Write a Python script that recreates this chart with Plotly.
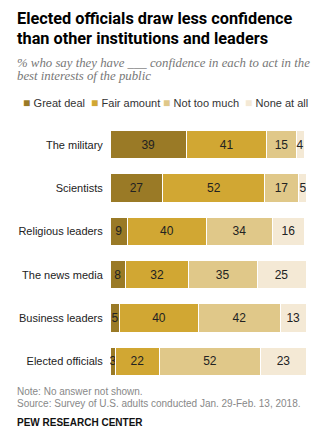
import plotly.graph_objects as go

categories = ["The military", "Scientists", "Religious leaders", "The news media",
              "Business leaders", "Elected officials"]
series_names = ["Great deal", "Fair amount", "Not too much", "None at all"]
great_deal = [39, 27, 9, 8, 5, 3]
fair_amount = [41, 52, 40, 32, 40, 22]
not_too_much = [15, 17, 34, 35, 42, 52]
none_at_all = [4, 5, 16, 25, 13, 23]
colors = ["#9a7a26", "#d1a733", "#e0c889", "#f4e9d5"]

series = [great_deal, fair_amount, not_too_much, none_at_all]

fig = go.Figure()
for name, vals, col in zip(series_names, series, colors):
    fig.add_trace(go.Bar(
        y=categories, x=vals, name=name, orientation="h",
        marker=dict(color=col, line=dict(color="white", width=1)),
        text=[str(v) for v in vals], textposition="inside",
        insidetextanchor="middle", constraintext="none",
        textfont=dict(family="Liberation Sans, Arial", size=12, color="#222"),
        hoverinfo="skip", showlegend=False,
    ))

W, H = 335, 440
ml, mr, mt, mb = 110, 29, 123, 57

def px(x):
    return (x - ml) / (W - ml - mr)

def py(y):
    return 1 - (y - mt) / (H - mt - mb)

ann = []
title_font = dict(family="Liberation Sans Narrow, Roboto, Arial", size=16.3, color="#000")
ann.append(dict(text="<b>Elected officials draw less confidence</b>", x=px(15), y=py(18),
                xref="paper", yref="paper", xanchor="left", yanchor="middle",
                showarrow=False, font=title_font))
ann.append(dict(text="<b>than other institutions and leaders</b>", x=px(15), y=py(38),
                xref="paper", yref="paper", xanchor="left", yanchor="middle",
                showarrow=False, font=title_font))
sub_font = dict(family="Liberation Serif, Georgia, serif", size=12.8, color="#777")
ann.append(dict(text="<i>% who say they have ___ confidence in each to act in the</i>",
                x=px(15), y=py(63), xref="paper", yref="paper", xanchor="left",
                yanchor="middle", showarrow=False, font=sub_font))
ann.append(dict(text="<i>best interests of the public</i>",
                x=px(15), y=py(76), xref="paper", yref="paper", xanchor="left",
                yanchor="middle", showarrow=False, font=sub_font))

leg_x = [21, 89, 161, 243]
for name, col, lx in zip(series_names, colors, leg_x):
    ann.append(dict(text=f'<span style="color:{col};font-size:12px">■ </span>{name}',
                    x=px(lx), y=py(103), xref="paper", yref="paper",
                    xanchor="left", yanchor="middle", showarrow=False,
                    font=dict(family="Liberation Sans, Arial", size=11, color="#333")))

foot_font = dict(family="Liberation Sans, Arial", size=10, color="#888")
ann.append(dict(text="Note: No answer not shown.", x=px(15), y=py(391),
                xref="paper", yref="paper", xanchor="left", yanchor="middle",
                showarrow=False, font=foot_font))
ann.append(dict(text="Source: Survey of U.S. adults conducted Jan. 29-Feb. 13, 2018.",
                x=px(15), y=py(403), xref="paper", yref="paper", xanchor="left",
                yanchor="middle", showarrow=False, font=foot_font))
ann.append(dict(text="<b>PEW RESEARCH CENTER</b>", x=px(15), y=py(422),
                xref="paper", yref="paper", xanchor="left", yanchor="middle",
                showarrow=False, font=dict(family="Liberation Sans, Arial", size=10, color="#111")))

fig.update_layout(
    barmode="stack", bargap=0.35,
    width=W, height=H,
    margin=dict(l=ml, r=mr, t=mt, b=mb, autoexpand=False),
    paper_bgcolor="white", plot_bgcolor="white",
    xaxis=dict(range=[0, 100], visible=False, fixedrange=True),
    yaxis=dict(autorange="reversed", showgrid=False, zeroline=False, showline=False,
               ticks="outside", ticklen=4, tickcolor="rgba(0,0,0,0)",
               tickfont=dict(family="Liberation Sans, Arial", size=11, color="#222"),
               automargin=False, fixedrange=True),
    annotations=ann,
    showlegend=False,
)

fig.write_html("out.html")
